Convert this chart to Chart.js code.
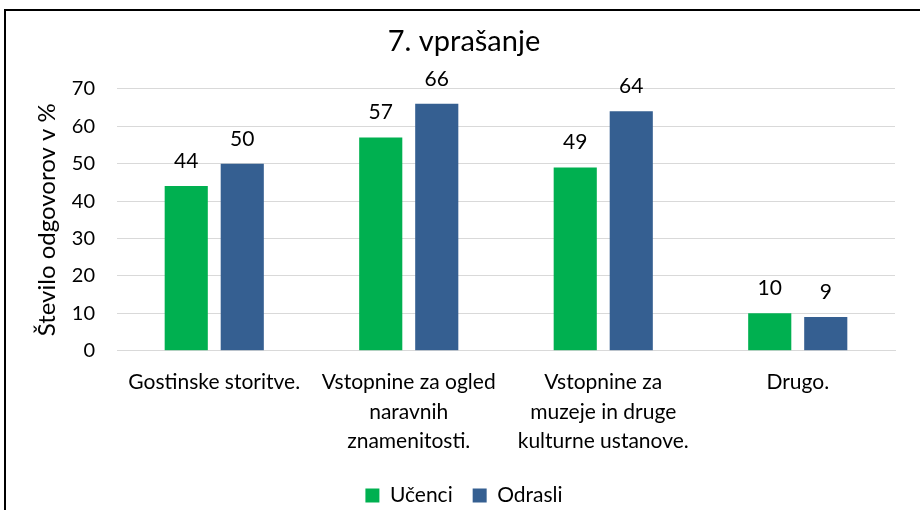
<!DOCTYPE html>
<html>
  <head>
    <script src="https://cdn.jsdelivr.net/npm/chart.js@4"></script>
    <style>
      body { margin: 0; background: #fff; overflow: hidden; }
      #frame { position: absolute; left: 4px; top: 9px; width: 940px; height: 540px; border: 2px solid #000; }
      #wrap { position: absolute; left: 0; top: 0; width: 920px; height: 510px; }
    </style>
  </head>

  <body>
    <div id="frame"></div>
    <div id="wrap">
      <canvas id="canvas"></canvas>
    </div>
    <script>
      const categories = [
        'Gostinske storitve.',
        ['Vstopnine za ogled', 'naravnih', 'znamenitosti.'],
        ['Vstopnine za', 'muzeje in druge', 'kulturne ustanove.'],
        'Drugo.',
      ];
      const ucenci = [44, 57, 49, 10];
      const odrasli = [50, 66, 64, 9];

      const font = "Lato, 'Open Sans', sans-serif";

      // value labels above each bar
      const barLabels = {
        id: 'barLabels',
        afterDatasetsDraw(chart) {
          const ctx = chart.ctx;
          ctx.save();
          ctx.font = '21px ' + font;
          ctx.fillStyle = '#000';
          ctx.textAlign = 'center';
          ctx.textBaseline = 'alphabetic';
          chart.data.datasets.forEach((ds, i) => {
            chart.getDatasetMeta(i).data.forEach((bar, j) => {
              ctx.fillText(ds.data[j], bar.x, bar.y - 18);
            });
          });
          ctx.restore();
        },
      };

      new Chart(document.getElementById('canvas'), {
        type: 'bar',
        data: {
          labels: categories,
          datasets: [
            { label: 'Učenci', data: ucenci, backgroundColor: '#00B050' },
            { label: 'Odrasli', data: odrasli, backgroundColor: '#355F91' },
          ],
        },
        options: {
          responsive: true,
          maintainAspectRatio: false,
          animation: false,
          categoryPercentage: 0.576,
          barPercentage: 0.77,
          layout: { padding: { left: 33, right: 25, top: 14, bottom: -6 } },
          plugins: {
            title: {
              display: true,
              text: '7. vprašanje',
              color: '#000',
              font: { family: font, size: 29, weight: 'normal' },
              padding: { top: 10, bottom: 30 },
            },
            legend: {
              position: 'bottom',
              labels: {
                color: '#000',
                font: { family: font, size: 21 },
                boxWidth: 14,
                boxHeight: 14,
                padding: 20,
              },
            },
            tooltip: { enabled: false },
          },
          scales: {
            x: {
              grid: { display: false },
              border: { color: '#d9d9d9' },
              ticks: { color: '#000', font: { family: font, size: 21, lineHeight: 1.4 }, maxRotation: 0, autoSkip: false, padding: 9 },
            },
            y: {
              min: 0,
              max: 70,
              grid: { color: '#d9d9d9', drawTicks: false },
              border: { display: false },
              ticks: { stepSize: 10, color: '#000', font: { family: font, size: 20 }, padding: 22 },
              title: {
                display: true,
                text: 'Število odgovorov v %',
                color: '#000',
                font: { family: font, size: 24 },
                padding: { top: 0, bottom: 0 },
              },
              afterFit(scale) { scale.width = 84; },
            },
          },
        },
        plugins: [barLabels],
      });
    </script>
  </body>
</html>
